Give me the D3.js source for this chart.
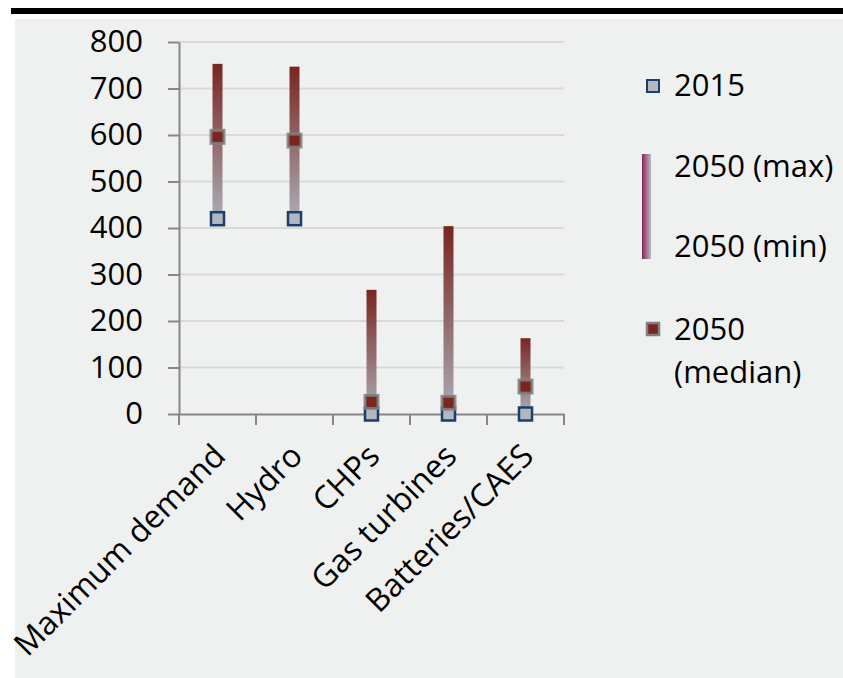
<!DOCTYPE html>
<html><head><meta charset="utf-8">
<script src="https://cdn.jsdelivr.net/npm/d3@7"></script>
<style>body{margin:0;background:#fff;}svg{display:block;font-family:"Open Sans",sans-serif;}</style>
</head><body>
<svg id="c" width="843" height="678"></svg>
<script>
const categories = ["Maximum demand","Hydro","CHPs","Gas turbines","Batteries/CAES"];
const v2015 = [420, 420, 0, 0, 0];
const v2050max = [753, 747, 267, 404, 163];
const v2050min = [420, 420, 0, 0, 0];
const v2050median = [596, 588, 26, 24, 59];
const yTicks = [0,100,200,300,400,500,600,700,800];
const legendLabels = ["2015","2050 (max)","2050 (min)","2050","(median)"];

const svg = d3.select("#c");
svg.append("rect").attr("x",15).attr("y",19).attr("width",828).attr("height",659).attr("fill","#eff1f0");
svg.append("rect").attr("x",11).attr("y",8).attr("width",832).attr("height",6).attr("fill","#000");

const defs = svg.append("defs");
const g1 = defs.append("linearGradient").attr("id","barGrad").attr("x1",0).attr("y1",0).attr("x2",0).attr("y2",1);
g1.append("stop").attr("offset","0%").attr("stop-color","#792520");
g1.append("stop").attr("offset","100%").attr("stop-color","#aaaeb6");
const g2 = defs.append("linearGradient").attr("id","legGrad").attr("x1",0).attr("y1",0).attr("x2",1).attr("y2",0);
g2.append("stop").attr("offset","0%").attr("stop-color","#8a2455");
g2.append("stop").attr("offset","100%").attr("stop-color","#b8bcc4");

const x = d3.scaleBand().domain(categories).range([179,564]);
const y = d3.scaleLinear().domain([0,800]).range([414,42]);

// gridlines
svg.append("g").selectAll("line").data(yTicks.slice(1)).join("line")
  .attr("x1",179).attr("x2",564).attr("y1",d=>y(d)).attr("y2",d=>y(d))
  .attr("stroke","#d9d9d9").attr("stroke-width",2);

// y axis
const yAx = svg.append("g").attr("transform","translate(179,0)")
  .call(d3.axisLeft(y).tickValues(yTicks).tickSize(11).tickPadding(25).tickSizeOuter(0));
yAx.select(".domain").attr("stroke","#868686").attr("stroke-width",2);
yAx.selectAll(".tick line").attr("stroke","#868686").attr("stroke-width",2);
yAx.selectAll(".tick text").attr("font-size",31).attr("fill","#000").attr("font-family","Open Sans");

// x axis
const xAx = svg.append("g").attr("transform","translate(0,414)")
  .call(d3.axisBottom(x).tickSize(0).tickFormat(""));
xAx.select(".domain").attr("stroke","#868686").attr("stroke-width",2);
const bounds = categories.map(c=>x(c)).concat([x.range()[1]]);
svg.append("g").selectAll("line").data(bounds).join("line")
  .attr("x1",d=>d).attr("x2",d=>d).attr("y1",414).attr("y2",425)
  .attr("stroke","#868686").attr("stroke-width",2);

// x labels
svg.append("g").selectAll("text").data(categories).join("text")
  .attr("transform",d=>`translate(${x(d)+x.bandwidth()/2+2},${450}) rotate(-45)`)
  .attr("text-anchor","end").attr("dy","0.35em")
  .attr("font-size",32).text(d=>d);

// bars
const cx = i => x(categories[i]) + x.bandwidth()/2;
svg.append("g").selectAll("rect").data(categories).join("rect")
  .attr("x",(d,i)=>cx(i)-5).attr("width",10)
  .attr("y",(d,i)=>y(v2050max[i])).attr("height",(d,i)=>y(v2050min[i])-y(v2050max[i]))
  .attr("fill","url(#barGrad)");

// 2015 markers
svg.append("g").selectAll("rect").data(categories).join("rect")
  .attr("x",(d,i)=>cx(i)-6.5).attr("y",(d,i)=>y(v2015[i])-6.5).attr("width",13).attr("height",13)
  .attr("fill","#b1b8c1").attr("stroke","#1a3f6b").attr("stroke-width",2.5);
// median markers
svg.append("g").selectAll("rect").data(categories).join("rect")
  .attr("x",(d,i)=>cx(i)-6.5).attr("y",(d,i)=>y(v2050median[i])-6.5).attr("width",13).attr("height",13)
  .attr("fill","#7b2420").attr("stroke","#808080").attr("stroke-opacity",0.85).attr("stroke-width",3);

// legend
const L = svg.append("g");
L.append("rect").attr("x",647).attr("y",80).attr("width",12).attr("height",12)
  .attr("fill","#b1b8c1").attr("stroke","#1a3f6b").attr("stroke-width",2);
L.append("rect").attr("x",642).attr("y",154).attr("width",9).attr("height",105).attr("fill","url(#legGrad)");
L.append("rect").attr("x",647).attr("y",323).attr("width",12).attr("height",12)
  .attr("fill","#7b2420").attr("stroke","#808080").attr("stroke-width",2.5);
const ly = [96,177,257,340,383];
L.selectAll("text").data(legendLabels).join("text")
  .attr("x",674).attr("y",(d,i)=>ly[i]).attr("font-size",31).text(d=>d);
</script>
</body></html>
